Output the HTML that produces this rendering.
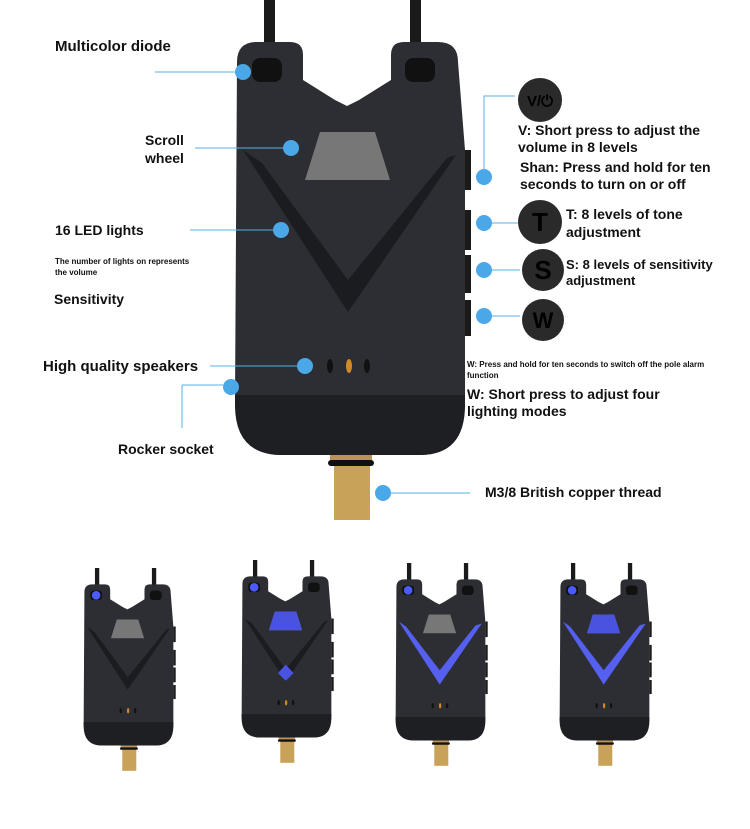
<!DOCTYPE html>
<html><head><meta charset="utf-8"><style>
html,body{margin:0;padding:0;background:#fff;}
svg{display:block;}
text{font-family:"Liberation Sans",sans-serif;fill:#111;font-weight:bold;}
</style></head><body>
<svg width="750" height="829" viewBox="0 0 750 829" xmlns="http://www.w3.org/2000/svg">
<defs>
<g id="dev">
  <rect x="264" y="0" width="11" height="50" fill="#1a1a1a"/>
  <rect x="410" y="0" width="11" height="50" fill="#1a1a1a"/>
  <rect x="334" y="462" width="36" height="58" fill="#c9a25a"/>
  <rect x="330" y="450" width="42" height="12" fill="#b8945a"/>
  <rect x="328" y="460" width="46" height="6" rx="3" fill="#111"/>
  <path d="M237,62 Q237,42 257,42 L290,42 Q303,42 303,55 L303,80 L335,100 L347,106 L359,100 L391,80 L391,55 Q391,42 404,42 L438,42 Q458,42 458,62 L465,150 L465,400 Q465,455 420,455 L282,455 Q235,455 235,400 Z" fill="#2c2e33"/>
  <path d="M235,395 L465,395 L465,405 Q465,455 420,455 L282,455 Q235,455 235,405 Z" fill="#1e1f22"/>
  <path d="M243,150 L348,312 L456,155 L447,158 L348,280 L262,163 Z" fill="#1b1c1f"/>
  <path d="M305,180 L320,132 L375,132 L390,180 Z" fill="#777"/>
  <rect x="252" y="58" width="30" height="24" rx="8" fill="#111"/>
  <rect x="405" y="58" width="30" height="24" rx="8" fill="#111"/>
  <rect x="465" y="150" width="6" height="40" fill="#1a1a1a"/>
  <rect x="465" y="210" width="6" height="40" fill="#1a1a1a"/>
  <rect x="465" y="255" width="6" height="38" fill="#1a1a1a"/>
  <rect x="465" y="300" width="6" height="36" fill="#1a1a1a"/>
  <ellipse cx="330" cy="366" rx="3" ry="7" fill="#111"/>
  <ellipse cx="349" cy="366" rx="3" ry="7" fill="#d08a2a"/>
  <ellipse cx="367" cy="366" rx="3" ry="7" fill="#111"/>
</g>
<circle id="ldiode" cx="267" cy="70" r="11" fill="#4b5bff"/>
<path id="lwheel" d="M305,180 L320,132 L375,132 L390,180 Z" fill="#4a52e0"/>
<path id="ldiam" d="M328,290 L348,268 L368,290 L348,310 Z" fill="#4a52e0"/>
<path id="lv" d="M243,150 L348,312 L456,155 L440,160 L348,275 L262,163 Z" fill="#5560f0"/>
</defs>
<use href="#dev"/>
<g transform="translate(-8,568) scale(0.39)"><use href="#dev"/><use href="#ldiode"/></g>
<g transform="translate(150,560) scale(0.39)"><use href="#dev"/><use href="#ldiode"/><use href="#lwheel"/><use href="#ldiam"/></g>
<g transform="translate(304,563) scale(0.39)"><use href="#dev"/><use href="#ldiode"/><use href="#lv"/></g>
<g transform="translate(468,563) scale(0.39)"><use href="#dev"/><use href="#ldiode"/><use href="#lwheel"/><use href="#lv"/></g>
<g stroke="#5aaee6" stroke-width="1" fill="none">
<path d="M155,72 H243"/><path d="M195,148 H291"/><path d="M190,230 H281"/>
<path d="M210,366 H305"/><path d="M182,385 V428 M182,385 H223"/>
<path d="M391,493 H470"/><path d="M484,177 V96 H515"/>
<path d="M484,223 H518"/><path d="M484,270 H520"/><path d="M484,316 H520"/>
</g>
<g fill="#4aa8e8">
<circle cx="243" cy="72" r="8"/><circle cx="291" cy="148" r="8"/><circle cx="281" cy="230" r="8"/>
<circle cx="305" cy="366" r="8"/><circle cx="231" cy="387" r="8"/><circle cx="383" cy="493" r="8"/>
<circle cx="484" cy="177" r="8"/><circle cx="484" cy="223" r="8"/><circle cx="484" cy="270" r="8"/><circle cx="484" cy="316" r="8"/>
</g>
<g fill="#2a2a2a">
<circle cx="540" cy="100" r="22"/><circle cx="540" cy="222" r="22"/><circle cx="543" cy="270" r="21"/><circle cx="543" cy="320" r="21"/>
</g>
<text x="540" y="106" font-size="15" text-anchor="middle" style="fill:#000">V/⏻</text>
<text x="540" y="231" font-size="26" text-anchor="middle" style="fill:#000">T</text>
<text x="543" y="279" font-size="26" text-anchor="middle" style="fill:#000">S</text>
<text x="543" y="328" font-size="22" text-anchor="middle" style="fill:#000">W</text>
<text x="55" y="51" font-size="15">Multicolor diode</text>
<text x="145" y="145" font-size="14">Scroll</text>
<text x="145" y="163" font-size="14">wheel</text>
<text x="55" y="235" font-size="14">16 LED lights</text>
<text x="55" y="264" font-size="8">The number of lights on represents</text>
<text x="55" y="275" font-size="8">the volume</text>
<text x="54" y="304" font-size="14">Sensitivity</text>
<text x="43" y="371" font-size="15">High quality speakers</text>
<text x="118" y="454" font-size="14">Rocker socket</text>
<text x="485" y="497" font-size="14">M3/8 British copper thread</text>
<text x="518" y="135" font-size="14">V: Short press to adjust the</text>
<text x="518" y="152" font-size="14">volume in 8 levels</text>
<text x="520" y="172" font-size="14">Shan: Press and hold for ten</text>
<text x="520" y="189" font-size="14">seconds to turn on or off</text>
<text x="566" y="219" font-size="14">T: 8 levels of tone</text>
<text x="566" y="237" font-size="14">adjustment</text>
<text x="566" y="269" font-size="13">S: 8 levels of sensitivity</text>
<text x="566" y="285" font-size="13">adjustment</text>
<text x="467" y="367" font-size="8">W: Press and hold for ten seconds to switch off the pole alarm</text>
<text x="467" y="378" font-size="8">function</text>
<text x="467" y="399" font-size="14">W: Short press to adjust four</text>
<text x="467" y="416" font-size="14">lighting modes</text>
</svg>
</body></html>
